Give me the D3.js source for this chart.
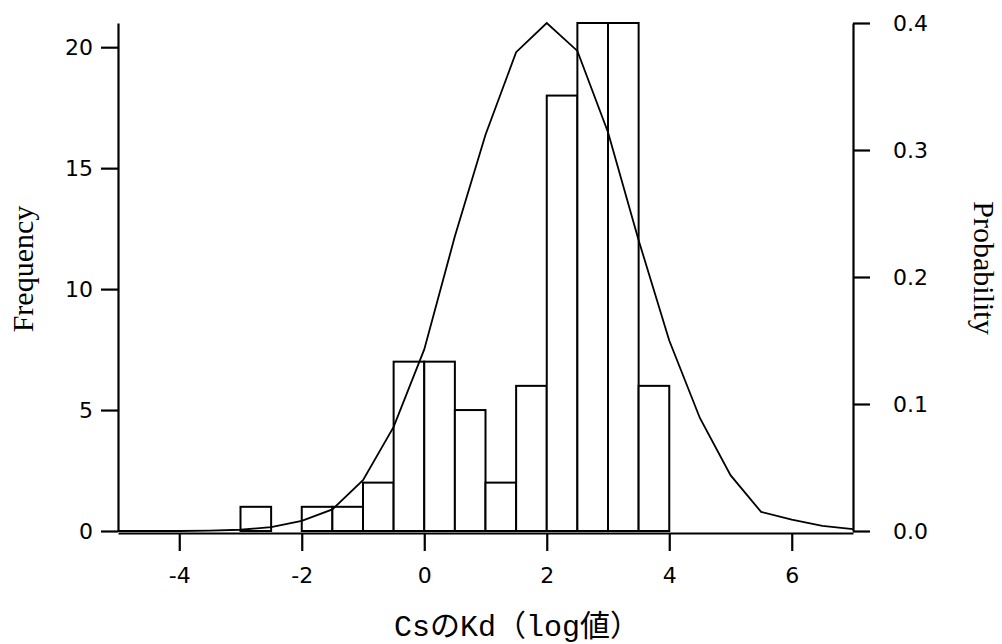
<!DOCTYPE html>
<html>
<head>
<meta charset="utf-8">
<script src="https://cdn.jsdelivr.net/npm/d3@7"></script>
<style>
  body { margin: 0; background: #fff; }
</style>
</head>
<body>
<div id="chart"></div>
<script>
// histogram bins (left edge, width 0.5) and counts
const binStarts = [-5, -4.5, -4, -3.5, -3, -2.5, -2, -1.5, -1, -0.5, 0, 0.5, 1, 1.5, 2, 2.5, 3, 3.5, 4, 4.5];
const binCounts = [0, 0, 0, 0, 1, 0, 1, 1, 2, 7, 7, 5, 2, 6, 18, 21, 21, 6, 0, 0];
const binWidth = 0.5;

// fitted probability curve (right axis)
const curveX = [-5, -4.5, -4, -3.5, -3, -2.5, -2, -1.5, -1, -0.5, 0, 0.5, 1, 1.5, 2, 2.5, 3, 3.5, 4, 4.5, 5, 5.5, 6, 6.5, 7];
const curveP = [0, 0, 0, 0.0003, 0.001, 0.003, 0.008, 0.017, 0.040, 0.082, 0.143, 0.232, 0.312, 0.377, 0.400, 0.378, 0.314, 0.229, 0.150, 0.089, 0.044, 0.015, 0.009, 0.004, 0.0015];

const xTicks = [-4, -2, 0, 2, 4, 6];
const freqTicks = [0, 5, 10, 15, 20];
const probTicks = [0, 0.1, 0.2, 0.3, 0.4];

const width = 1002;
const height = 644;
const plot = { left: 118, right: 853, top: 23, bottom: 531 };

const svg = d3.select("#chart")
  .append("svg")
  .attr("width", width)
  .attr("height", height);

const x = d3.scaleLinear().domain([-5, 7]).range([plot.left, plot.right]);
const yFreq = d3.scaleLinear().domain([0, 21]).range([plot.bottom, plot.top]);
const yProb = d3.scaleLinear().domain([0, 0.4]).range([plot.bottom, plot.top]);

const tickFont = "'DejaVu Sans', sans-serif";

function styleAxis(g) {
  g.attr("font-family", tickFont).attr("font-size", 22);
  g.select(".domain").attr("stroke", "#000").attr("stroke-width", 2.2);
  g.selectAll(".tick line").attr("stroke", "#000").attr("stroke-width", 2.2);
  g.selectAll(".tick text").attr("fill", "#000");
}

// bars
const bins = binStarts.map((s, i) => ({ start: s, count: binCounts[i] }));
svg.append("g")
  .selectAll("rect")
  .data(bins)
  .join("rect")
  .attr("x", (d) => x(d.start))
  .attr("width", (d) => x(d.start + binWidth) - x(d.start))
  .attr("y", (d) => yFreq(d.count))
  .attr("height", (d) => yFreq(0) - yFreq(d.count))
  .attr("fill", "#fff")
  .attr("stroke", "#000")
  .attr("stroke-width", 2);

// curve
const curve = curveX.map((v, i) => [v, curveP[i]]);
svg.append("path")
  .datum(curve)
  .attr("fill", "none")
  .attr("stroke", "#000")
  .attr("stroke-width", 1.8)
  .attr("d", d3.line().x((d) => x(d[0])).y((d) => yProb(d[1])));

// axes
svg.append("g")
  .attr("transform", `translate(0, ${plot.bottom + 2})`)
  .call(d3.axisBottom(x).tickValues(xTicks).tickFormat((d) => String(d))
    .tickSize(18).tickSizeOuter(0).tickPadding(16))
  .call(styleAxis);

svg.append("g")
  .attr("transform", `translate(${plot.left}, 0)`)
  .call(d3.axisLeft(yFreq).tickValues(freqTicks).tickFormat((d) => String(d))
    .tickSize(17).tickSizeOuter(0).tickPadding(8))
  .call(styleAxis);

svg.append("g")
  .attr("transform", `translate(${plot.right}, 0)`)
  .call(d3.axisRight(yProb).tickValues(probTicks).tickFormat(d3.format(".1f"))
    .tickSize(17).tickSizeOuter(0).tickPadding(23))
  .call(styleAxis);

// titles
svg.append("text")
  .attr("transform", "translate(33, 269) rotate(-90)")
  .attr("text-anchor", "middle")
  .attr("font-family", "'Liberation Serif', serif")
  .attr("font-size", 30)
  .text("Frequency");

svg.append("text")
  .attr("transform", "translate(974, 268) rotate(90)")
  .attr("text-anchor", "middle")
  .attr("font-family", "'Liberation Serif', serif")
  .attr("font-size", 30)
  .text("Probability");

svg.append("text")
  .attr("x", 517)
  .attr("y", 636)
  .attr("text-anchor", "middle")
  .attr("font-family", "'Liberation Mono', 'Noto Sans CJK JP', monospace")
  .attr("font-size", 30)
  .text("CsのKd（log値）");
</script>
</body>
</html>
